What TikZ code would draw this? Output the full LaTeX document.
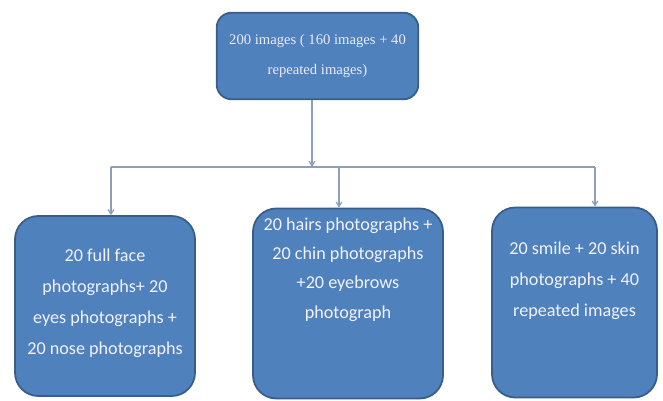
\documentclass[tikz,border=0pt]{standalone}
\usepackage{fontspec}
\setmainfont{Liberation Serif}
\newfontfamily\boxfont{Carlito}
\usetikzlibrary{positioning, arrows.meta}

\definecolor{boxblue}{RGB}{79,129,189}
\definecolor{boxedge}{RGB}{56,93,138}
\definecolor{linkgrey}{RGB}{140,158,186}

\begin{document}
\begin{tikzpicture}[
x=0.03cm, y=-0.03cm,
roundbox/.style={rectangle, rounded corners=0.7cm, draw=boxedge, line width=1.5pt, fill=boxblue},
toptext/.style={text=white!92!blue, font=\fontsize{12.5}{25}\selectfont, align=center},
boxtext/.style={text=white!95!blue, font=\boxfont\fontsize{15.5}{26.5}\selectfont, align=center},
link/.style={draw=linkgrey, line width=1pt},
]
\useasboundingbox (0,0) rectangle (663,401);

\node[roundbox, rounded corners=0.45cm, minimum width=6.05cm, minimum height=2.6cm] (topbox) at (317.5,56) {};
\node[toptext] (toplabel) at (topbox.center) {200 images ( 160 images + 40\\repeated images)};

\node[roundbox, minimum width=5.4cm, minimum height=5.4cm] (leftbox) at (105,306) {};
\node[roundbox, minimum width=5.7cm, minimum height=5.7cm] (midbox) at (348,303.5) {};
\node[roundbox, minimum width=4.95cm, minimum height=5.7cm] (rightbox) at (574.5,302.5) {};

\node[boxtext] (lefttext) at ([yshift=0.08cm]leftbox.center) {20 full face\\photographs+ 20\\eyes photographs +\\20 nose photographs};
\node[boxtext, font=\boxfont\fontsize{15.5}{25}\selectfont] (midtext) at ([yshift=1.02cm]midbox.center) {20 hairs photographs +\\20 chin photographs\\+20 eyebrows\\photograph};
\node[boxtext] (righttext) at ([yshift=0.66cm]rightbox.center) {20 smile + 20 skin\\photographs + 40\\repeated images};

%Lines
\coordinate (bus) at (312,167);
\coordinate (busleft) at (111,167);
\coordinate (busmid) at (339,167);
\coordinate (busright) at (595,167);
\draw[link, -{Straight Barb[length=4pt, width=5pt]}] (topbox.south -| bus) -- (bus);
\draw[link] (busleft) -- (busright);
\draw[link, -{Straight Barb[length=4pt, width=5pt]}] (busleft) -- (busleft |- leftbox.north);
\draw[link, -{Straight Barb[length=4pt, width=5pt]}] (busmid) -- (busmid |- midbox.north);
\draw[link, -{Straight Barb[length=4pt, width=5pt]}] (busright) -- (busright |- rightbox.north);
\end{tikzpicture}
\end{document}
